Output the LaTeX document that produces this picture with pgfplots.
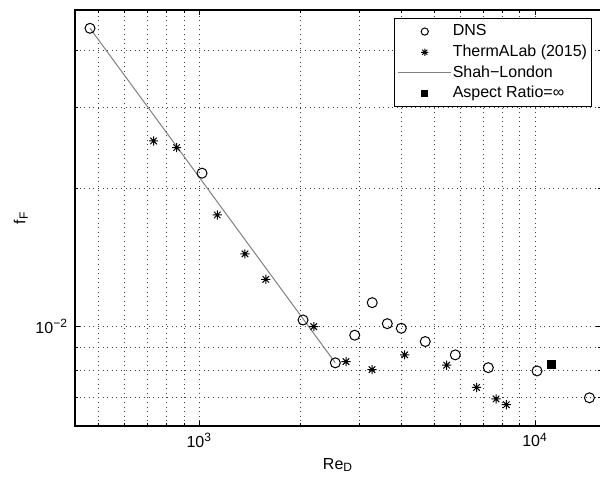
\documentclass[border=0pt]{standalone}
\usepackage{fontspec}
\setmainfont{Liberation Sans}
\usepackage{pgfplots}
\pgfplotsset{compat=1.18}

% MATLAB-like '*' marker: a plus and a cross on top of each other
\pgfdeclareplotmark{mstar}{%
  \pgfpathmoveto{\pgfqpoint{-\pgfplotmarksize}{0pt}}%
  \pgfpathlineto{\pgfqpoint{\pgfplotmarksize}{0pt}}%
  \pgfpathmoveto{\pgfqpoint{0pt}{-\pgfplotmarksize}}%
  \pgfpathlineto{\pgfqpoint{0pt}{\pgfplotmarksize}}%
  \pgfpathmoveto{\pgfqpoint{-0.707\pgfplotmarksize}{-0.707\pgfplotmarksize}}%
  \pgfpathlineto{\pgfqpoint{0.707\pgfplotmarksize}{0.707\pgfplotmarksize}}%
  \pgfpathmoveto{\pgfqpoint{-0.707\pgfplotmarksize}{0.707\pgfplotmarksize}}%
  \pgfpathlineto{\pgfqpoint{0.707\pgfplotmarksize}{-0.707\pgfplotmarksize}}%
  \pgfusepathqstroke}

\pgfplotsset{
  markleg/.style={legend image code/.code={%
    \draw[mark repeat=2,mark phase=2,##1,mark size=#1] plot coordinates {(3pt,0pt) (16.25pt,0pt) (29.5pt,0pt)};}},
  lineleg/.style={legend image code/.code={\draw[##1] (3pt,0pt) -- (29.5pt,0pt);}},
}

\begin{document}
\begin{tikzpicture}
\useasboundingbox (0,0) rectangle (300pt,240pt);
\begin{axis}[
  at={(37.5pt,27pt)}, anchor=south west,
  scale only axis, width=263pt, height=208pt,
  xmode=log, ymode=log,
  xmin=426.3, xmax=15730,
  ymin=6.056e-3, ymax=0.04904,
  xtick={1000,10000},
  xticklabels={10\textsuperscript{3},10\textsuperscript{4}},
  minor xtick={500,600,700,800,900,2000,3000,4000,5000,6000,7000,8000,9000,20000},
  ytick={0.01},
  yticklabels={10\textsuperscript{−2}},
  minor ytick={0.006,0.007,0.008,0.009,0.02,0.03,0.04},
  grid=both,
  major grid style={black!75, line width=0.4pt, dash pattern=on 0.5pt off 1.8pt},
  minor grid style={black!75, line width=0.4pt, dash pattern=on 0.5pt off 1.8pt},
  axis line style={line width=0.6pt},
  major tick length=2.5pt, minor tick length=1.5pt,
  every tick/.style={black, line width=0.4pt},
  tick label style={font=\fontsize{8}{9.6}\selectfont},
  label style={font=\fontsize{8}{9.6}\selectfont},
  xlabel={Re\textsubscript{D}},
  ylabel={f\textsubscript{F}},
  xlabel style={at={(axis description cs:0.5,-0.094)}, anchor=center},
  ylabel style={at={(axis description cs:-0.103,0.5)}, anchor=center},
  legend style={at={(0.982,0.980)}, anchor=north east, draw=black, line width=0.5pt,
    fill=white, font=\fontsize{8}{9.6}\selectfont, row sep=1.6pt, column sep=0pt,
    inner xsep=1.5pt, inner ysep=2pt,
    nodes={inner xsep=0.5pt, inner ysep=0.5pt, text height=6pt, text depth=1.75pt}},
  legend cell align=left,
]
\addplot[only marks, mark=o, mark size=2.5pt, black, line width=0.5pt, markleg=1.8pt] coordinates {
  (472.5,0.04473) (1018.7,0.02159) (2037,0.01032) (2542,0.00832) (2904,0.00956)
  (3274,0.01126) (3631,0.01013) (3997,0.00990) (4711,0.00926) (5789,0.00866)
  (7262,0.00812) (10140,0.00799) (14530,0.00698)
};
\addlegendentry{DNS}
\addplot[only marks, mark=mstar, mark size=2.3pt, black, line width=0.5pt, markleg=1.8pt] coordinates {
  (731,0.02539) (856,0.02455) (1131,0.01750) (1368,0.01439) (1578,0.01266)
  (2193,0.00998) (2736,0.00837) (3270,0.00804) (4092,0.00866) (5458,0.00822)
  (6698,0.00735) (7657,0.00694) (8213,0.00674)
};
\addlegendentry{ThermALab (2015)}
\addplot[no marks, color={rgb,255:red,128;green,128;blue,128}, line width=0.5pt, lineleg] coordinates {
  (472.5,0.04473) (2542,0.00832)
};
\addlegendentry{Shah−London}
\addplot[only marks, mark=square*, mark size=2pt, black, markleg=1.6pt] coordinates {
  (11184,0.00825)
};
\addlegendentry{Aspect Ratio=∞}
\end{axis}
\end{tikzpicture}
\end{document}
